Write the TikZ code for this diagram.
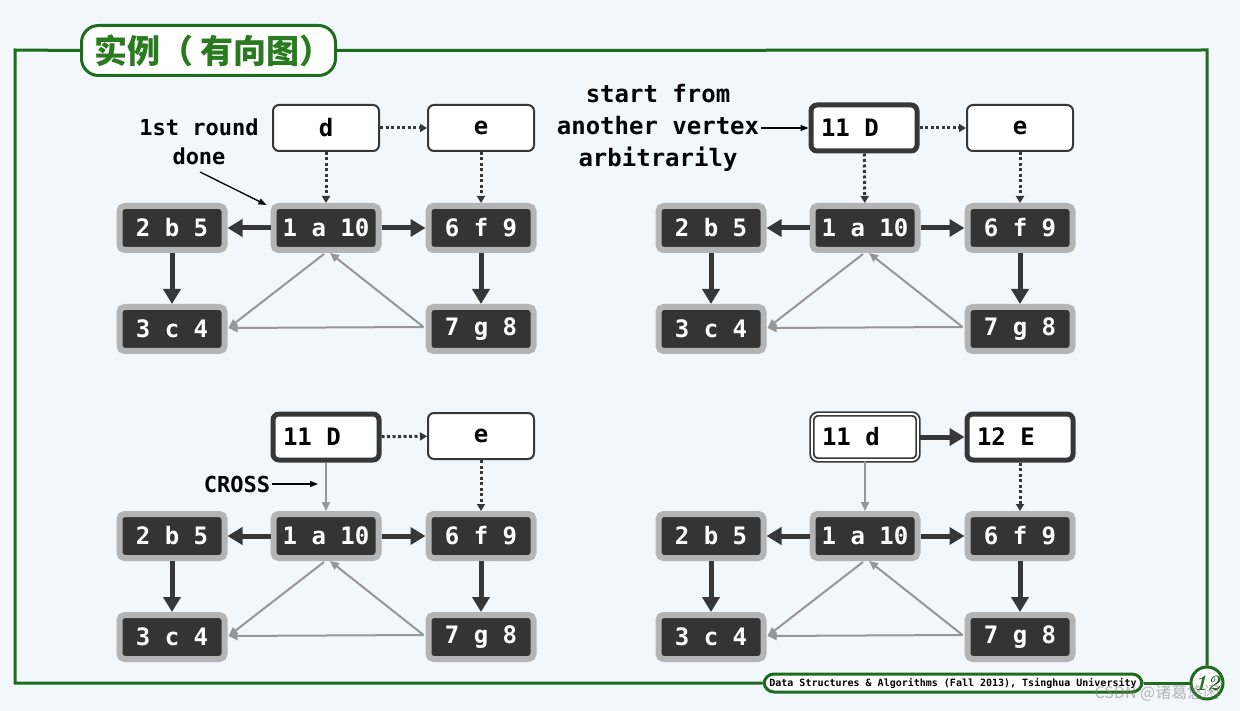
\documentclass[tikz,border=0pt]{standalone}
\usepackage{fontspec}
\setmonofont{DejaVu Sans Mono}
\newfontfamily\cjkfont{Noto Sans CJK SC}
\usetikzlibrary{arrows.meta,calc}
\definecolor{bgc}{RGB}{242,247,252}
\definecolor{frameg}{RGB}{30,108,30}
\definecolor{titleg}{RGB}{42,122,32}
\definecolor{nodedark}{RGB}{52,52,52}
\definecolor{nodegray}{RGB}{180,180,180}
\definecolor{edgegray}{RGB}{150,150,150}
\definecolor{inkdark}{RGB}{55,55,55}
\newcommand\vxfont{\ttfamily\bfseries\fontsize{24}{24}\selectfont}
\newcommand\notefont{\ttfamily\bfseries\fontsize{22}{29}\selectfont}
\newcommand\notefontb{\ttfamily\bfseries\fontsize{24}{32}\selectfont}
\newcommand\msp{\hspace{0.602em}}
\tikzset{
  vbox/.style={rounded corners=5pt, fill=nodedark, draw=nodegray, line width=6pt,
    minimum width=105pt, minimum height=44pt, text=white, font=\vxfont, inner sep=0pt},
  wbox/.style={rounded corners=6pt, fill=white, draw=inkdark, line width=2pt,
    text width=86pt, inner xsep=10pt, inner ysep=0pt, minimum height=46pt,
    align=center, font=\vxfont, text=black},
  wleft/.style={wbox, align=left},
  wthick/.style={line width=5pt, draw=inkdark},
  wdouble/.style={draw=inkdark, line width=1.8pt, double=white, double distance=1.8pt},
  tree/.style={line width=5pt, draw=inkdark, -{Triangle[length=15pt,width=17pt]}},
  crossedge/.style={line width=2pt, draw=edgegray, -{Triangle[length=9pt,width=8pt]}},
  dots/.style={line width=3pt, draw=inkdark, dash pattern=on 3pt off 2.5pt,
    -{Triangle[length=7pt,width=8pt]}},
  note/.style={font=\notefont, align=center, text=black, inner sep=2pt},
  noteline/.style={line width=1.3pt, draw=black, -{Triangle[length=8pt,width=6pt]}},
  frameline/.style={line width=3pt, draw=frameg},
}
\newcommand\lowergraph{%
  \node[vbox] (b) at (172,228) {2 b 5};
  \node[vbox] (a) at (326,228) {1 a 10};
  \node[vbox] (f) at (481,228) {6 f 9};
  \node[vbox] (c) at (172,329) {3 c 4};
  \node[vbox] (g) at (481,329) {7 g 8};
  \draw[tree] (a) -- (b);
  \draw[tree] (a) -- (f);
  \draw[tree] (b) -- (c);
  \draw[tree] (f) -- (g);
  \draw[crossedge] ($(g.west)+(-2,-2)$) -- ($(a.south)+(4,0)$);
  \draw[crossedge] ($(a.south)+(-2,1)$) -- ($(c.east)+(1,-1)$);
  \draw[crossedge] ($(g.west)+(-2,-2)$) -- ($(c.east)+(1,-1)$);
}
\begin{document}
\begin{tikzpicture}[x=1pt,y=-1pt]
\useasboundingbox (0,0) rectangle (1240,711);
\fill[bgc] (0,0) rectangle (1240,711);

% frame
\node[draw=frameg, line width=3pt, fill=white, rounded corners=17pt,
  minimum width=254pt, minimum height=50pt, inner sep=0pt,
  font=\cjkfont\bfseries\fontsize{33}{33}\selectfont, text=titleg] (title) at (208.5,50.5)
  {\hspace{10pt}实例（\hspace{8pt}有向图）};
\node[draw=frameg, line width=3pt, fill=white, rounded corners=10pt,
  minimum width=378pt, minimum height=18pt, inner sep=0pt,
  font=\ttfamily\bfseries\fontsize{10}{10}\selectfont, text=black] (footer) at (953,683)
  {Data Structures \& Algorithms (Fall 2013), Tsinghua University};
\node[circle, draw=frameg, line width=3pt, fill=white, minimum size=32pt, inner sep=0pt,
  font=\bfseries\itshape\fontsize{22}{22}\selectfont, text=frameg] (num) at (1207,683) {12};
\draw[frameline] (title.west) -- (15,50) -- (15,683) -- (footer.west);
\draw[frameline] (title.east) -- (1207,50) -- (num.north);
\draw[frameline] (footer.east) -- (num.west);

% panel 1
\begin{scope}[name prefix=p1-]
  \lowergraph
  \node[wbox] (d) at (326,128) {d};
  \node[wbox] (e) at (481,128) {e};
  \draw[dots] (d) -- (e);
  \draw[dots] (d) -- (a);
  \draw[dots] (e) -- (f);
  \node[note] (lbl) at (199,142) {1st round\\done};
  \coordinate (lbls) at (200,172);
  \draw[noteline] (lbls) -- ($(a.north west)+(-4,2)$);
\end{scope}

% panel 2
\begin{scope}[shift={(539,0)}, name prefix=p2-]
  \lowergraph
  \node[wleft, wthick] (D) at (325,128) {11\msp D};
  \node[wbox] (e) at (481,128) {e};
  \draw[dots] (D) -- (e);
  \draw[dots] (D) -- (a);
  \draw[dots] (e) -- (f);
  \node[note, font=\notefontb] (lbl) at (119,128) {start from\\another vertex\\arbitrarily};
  \draw[noteline] (lbl.east) -- (D.west);
\end{scope}

% panel 3
\begin{scope}[shift={(0,308)}, name prefix=p3-]
  \lowergraph
  \node[wleft, wthick] (D) at (326,129) {11\msp D};
  \node[wbox] (e) at (481,128) {e};
  \draw[dots] (D) -- (e);
  \draw[crossedge] (D) -- (a);
  \draw[dots] (e) -- (f);
  \node[note] (lbl) at (237,176) {CROSS};
  \coordinate (lblt) at (318,176);
  \draw[noteline] (lbl.east) -- (lblt);
\end{scope}

% panel 4
\begin{scope}[shift={(539,308)}, name prefix=p4-]
  \lowergraph
  \node[wleft, wdouble] (d) at (326,129) {11\msp d};
  \node[wleft, wthick] (E) at (481,129) {12\msp E};
  \draw[tree] (d) -- (E);
  \draw[crossedge] (d) -- (a);
  \draw[dots] (E) -- (f);
\end{scope}

% watermark
\node[text=gray, opacity=0.55, font=\cjkfont\fontsize{16}{16}\selectfont, inner sep=0pt] (wm) at (1157,693) {CSDN @诸葛悠闲};
\end{tikzpicture}
\end{document}
